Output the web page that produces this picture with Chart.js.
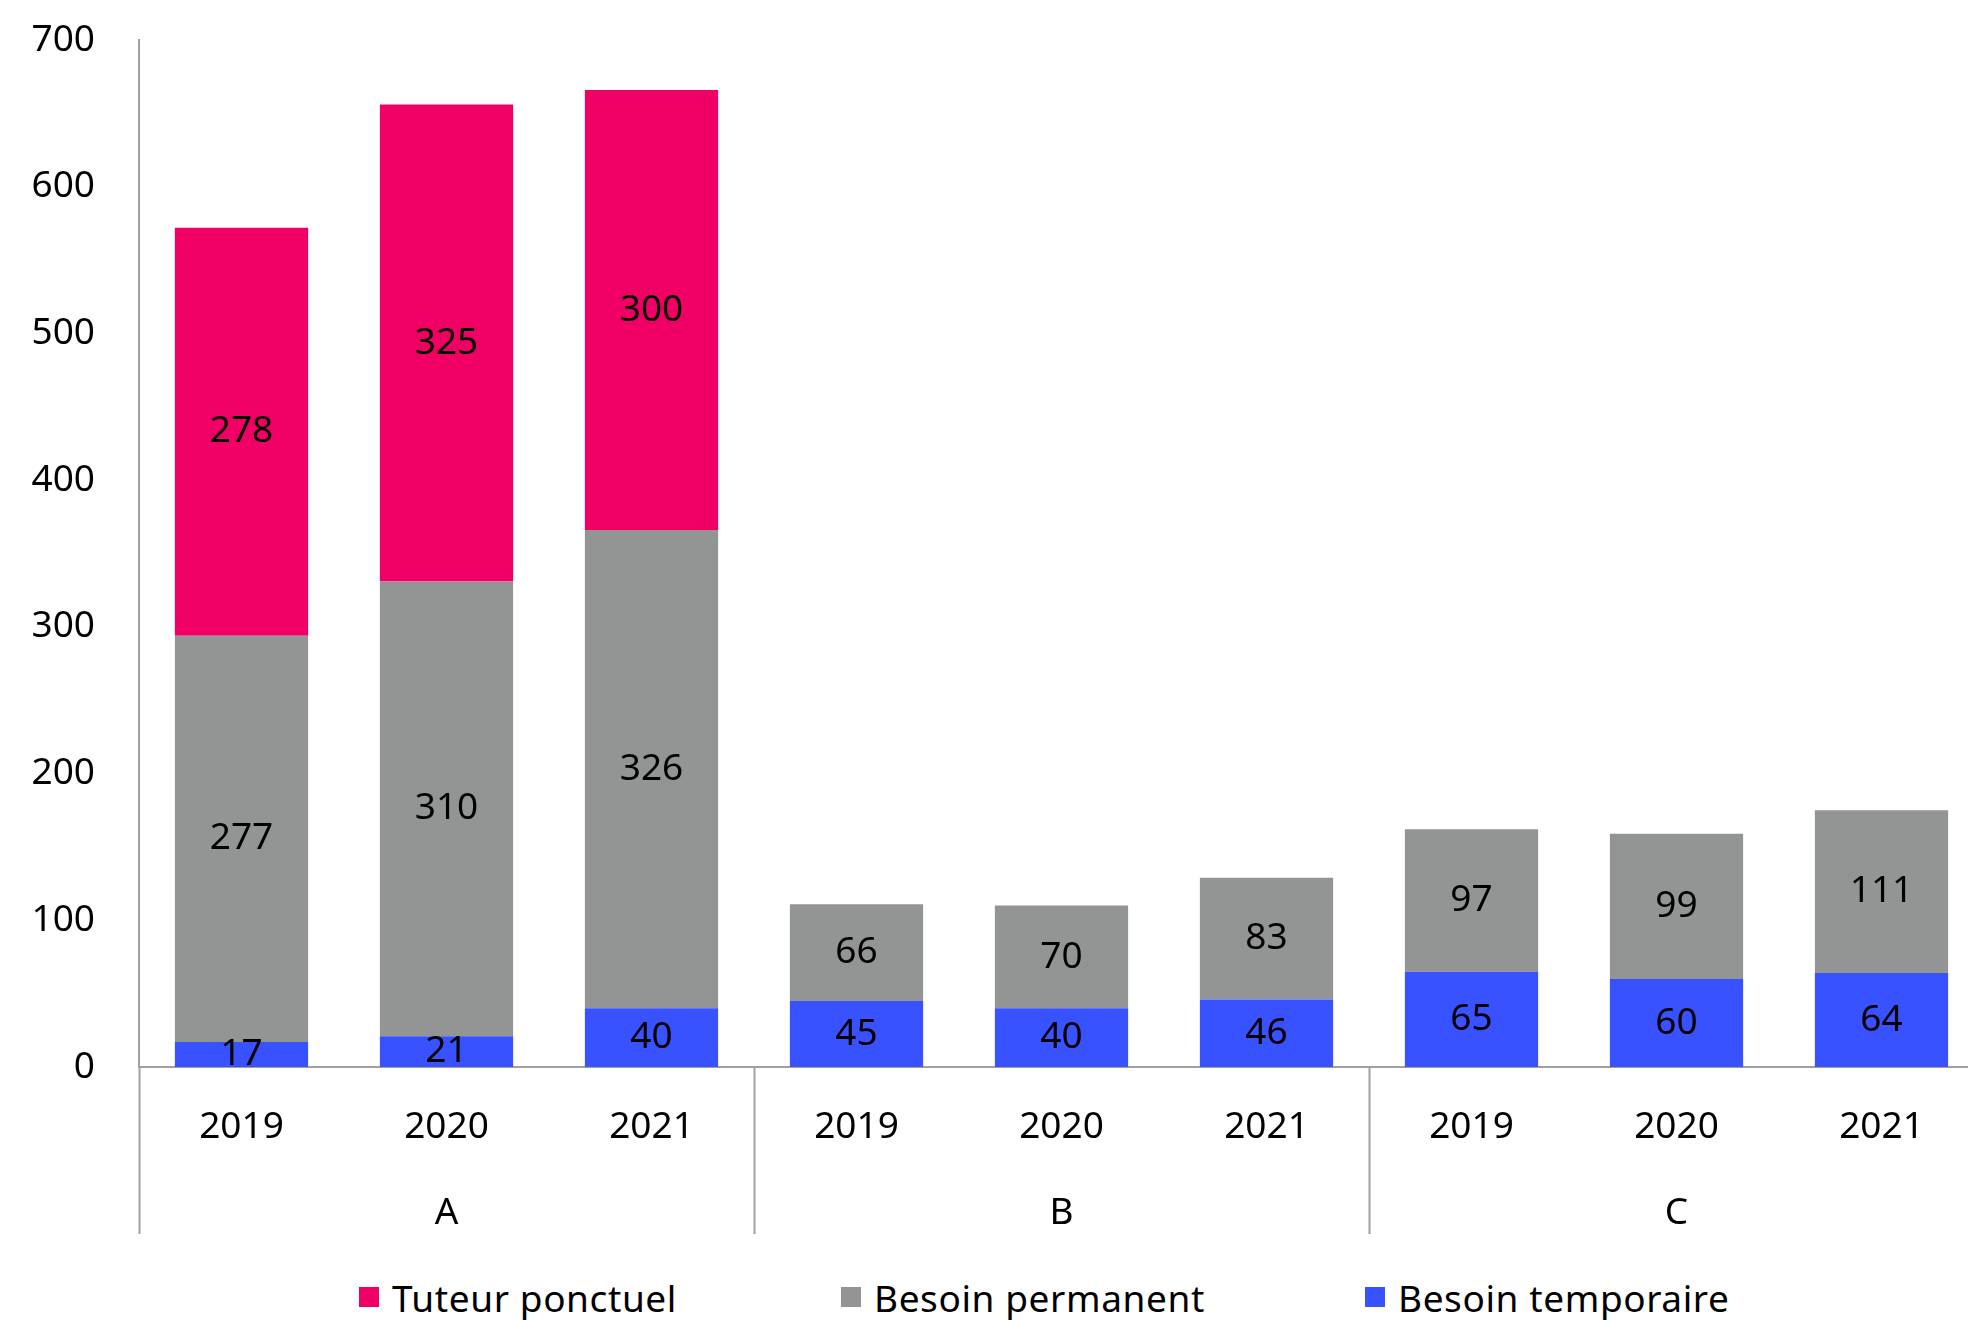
<!DOCTYPE html>
<html>
<head>
<meta charset="utf-8">
<script src="https://cdn.jsdelivr.net/npm/chart.js@4"></script>
<style>
    body { margin: 0; overflow: hidden; background: #fff; width: 1968px; height: 1320px; position: relative; }
    #wrap { position: absolute; left: 0; top: 0; width: 1984px; height: 1240px; }
    #legend { position: absolute; left: 0; top: 1277px; width: 1968px; height: 40px; font-family: "Noto Sans", sans-serif; font-size: 37px; color: #000; letter-spacing: 0.6px; }
    .item { position: absolute; top: 0; display: flex; align-items: center; height: 40px; white-space: nowrap; }
    .box { width: 20px; height: 20px; margin-right: 13px; }
</style>
</head>
<body>
<div id="wrap"><canvas id="chart"></canvas></div>
<div id="legend"></div>
<script>
var years = ['2019', '2020', '2021', '2019', '2020', '2021', '2019', '2020', '2021'];
var groups = ['A', 'B', 'C'];
var besoinTemporaire = [17, 21, 40, 45, 40, 46, 65, 60, 64];
var besoinPermanent = [277, 310, 326, 66, 70, 83, 97, 99, 111];
var tuteurPonctuel = [278, 325, 300, null, null, null, null, null, null];

var FONT = '"Noto Sans", sans-serif';
var AXIS_COLOR = '#a0a0a0';

// write the value in the middle of each segment
var valueLabels = {
    id: 'valueLabels',
    afterDatasetsDraw: function (chart) {
        var ctx = chart.ctx;
        ctx.save();
        ctx.font = '37px ' + FONT;
        ctx.fillStyle = '#000';
        ctx.textAlign = 'center';
        ctx.textBaseline = 'middle';
        chart.data.datasets.forEach(function (ds, i) {
            chart.getDatasetMeta(i).data.forEach(function (bar, j) {
                var v = ds.data[j];
                if (v === null || v === undefined) return;
                ctx.fillText(v, bar.x, (bar.y + bar.base) / 2);
            });
        });
        ctx.restore();
    }
};

// vertical lines between the groups, under the axis
var groupLines = {
    id: 'groupLines',
    afterDraw: function (chart) {
        var x = chart.scales.x;
        var x2 = chart.scales.x2;
        var ctx = chart.ctx;
        ctx.save();
        ctx.strokeStyle = AXIS_COLOR;
        ctx.lineWidth = 2;
        for (var i = 0; i <= years.length; i += 3) {
            var px = Math.round(x.getPixelForValue(i - 0.5)) + 0.5;
            ctx.beginPath();
            ctx.moveTo(px, chart.chartArea.bottom);
            ctx.lineTo(px, x2.bottom);
            ctx.stroke();
        }
        ctx.restore();
    }
};

var chart = new Chart(document.getElementById('chart').getContext('2d'), {
    type: 'bar',
    data: {
        labels: years,
        datasets: [{
            label: 'Besoin temporaire',
            data: besoinTemporaire,
            backgroundColor: '#3852ff'
        }, {
            label: 'Besoin permanent',
            data: besoinPermanent,
            backgroundColor: '#939594'
        }, {
            label: 'Tuteur ponctuel',
            data: tuteurPonctuel,
            backgroundColor: '#f00064'
        }]
    },
    options: {
        responsive: true,
        maintainAspectRatio: false,
        animation: false,
        layout: { padding: { top: 40, bottom: 6, left: 0, right: 0 } },
        datasets: {
            bar: { categoryPercentage: 1, barPercentage: 0.65 }
        },
        plugins: {
            legend: { display: false },
            tooltip: { enabled: false }
        },
        scales: {
            x: {
                stacked: true,
                grid: { display: false, drawTicks: false },
                border: { display: true, color: AXIS_COLOR, width: 2 },
                ticks: { color: '#000', font: { family: FONT, size: 37 }, padding: 38, maxRotation: 0, autoSkip: false },
                afterFit: function (scale) { scale.height = 80; }
            },
            x2: {
                type: 'category',
                position: 'bottom',
                labels: groups,
                offset: true,
                grid: { display: false, drawTicks: false },
                border: { display: false },
                ticks: { color: '#000', font: { family: FONT, size: 37 }, padding: 44, maxRotation: 0 },
                afterFit: function (scale) { scale.height = 87; }
            },
            y: {
                stacked: true,
                min: 0,
                max: 700,
                grid: { display: false, drawTicks: false },
                border: { display: true, color: AXIS_COLOR, width: 2 },
                ticks: { stepSize: 100, color: '#000', font: { family: FONT, size: 37 }, padding: 44 },
                afterFit: function (scale) {
                    scale.width = 139;
                    scale.paddingTop = 0;
                    scale.paddingBottom = 0;
                }
            }
        }
    },
    plugins: [valueLabels, groupLines]
});

// legend below the chart, top series first
var legendLefts = [359, 841, 1365];
var legend = document.getElementById('legend');
chart.data.datasets.slice().reverse().forEach(function (ds, i) {
    var item = document.createElement('div');
    item.className = 'item';
    item.style.left = legendLefts[i] + 'px';
    var box = document.createElement('span');
    box.className = 'box';
    box.style.background = ds.backgroundColor;
    item.appendChild(box);
    item.appendChild(document.createTextNode(ds.label));
    legend.appendChild(item);
});
</script>
</body>
</html>
